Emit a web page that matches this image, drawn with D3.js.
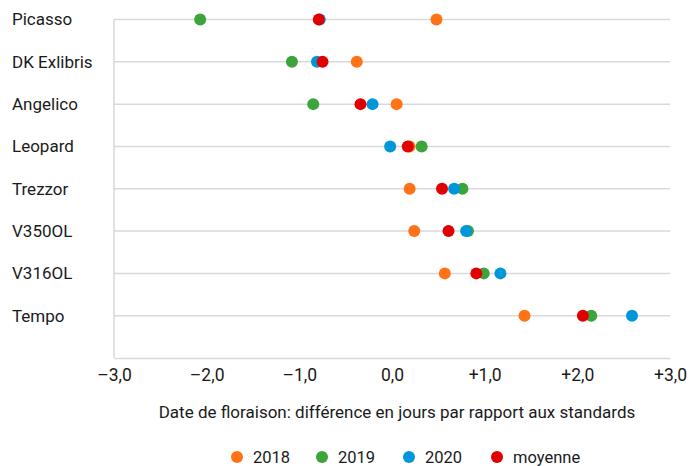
<!DOCTYPE html>
<html><head><meta charset="utf-8">
<script src="https://cdn.jsdelivr.net/npm/d3@7"></script>
<style>
body{margin:0;background:#fff}
text{font-family:Roboto,"Open Sans",sans-serif;fill:#1a1a1a}
</style>
</head><body>
<svg id="chart" width="696" height="466"></svg>
<script>
// valeurs (jours)
var varieties = ["Picasso","DK Exlibris","Angelico","Leopard","Trezzor","V350OL","V316OL","Tempo"];
var y2018   = [0.48,-0.38, 0.05, 0.19,0.19,0.24,0.57,1.43];
var y2019   = [-2.07,-1.08,-0.85,0.32,0.76,0.82,0.99,2.15];
var y2020   = [-0.78,-0.81,-0.21,-0.02,0.67,0.80,1.17,2.59];
var moyenne = [-0.79,-0.75,-0.34,0.17,0.54,0.61,0.91,2.06];
var seriesNames = ["2018","2019","2020","moyenne"];
var seriesColors = ["#ff7215","#3ba43b","#0097da","#e10000"];
var xTicks = [-3,-2,-1,0,1,2,3];

var svg = d3.select("#chart");
var x = d3.scaleLinear().domain([-3,3]).range([114,670]);
var y = d3.scaleLinear().domain([0,varieties.length]).range([19.5,358]);

function fmt(d){
    var s = Math.abs(d).toFixed(1).replace(".",",");
    if(d > 0) return "+" + s;
    if(d < 0) return "\u2013" + s;
    return s;
}

// lignes de grille
svg.append("g").selectAll("line").data(varieties).enter().append("line")
    .attr("x1",x(-3)).attr("x2",x(3))
    .attr("y1",function(d,i){return y(i);}).attr("y2",function(d,i){return y(i);})
    .attr("stroke","#d9d9d9").attr("stroke-width",1.5);

svg.append("line")
    .attr("x1",x(-3)).attr("x2",x(-3))
    .attr("y1",y(0)).attr("y2",y(varieties.length))
    .attr("stroke","#d9d9d9").attr("stroke-width",1.5);

var xAxis = svg.append("g")
    .attr("transform","translate(0,"+y(varieties.length)+")")
    .call(d3.axisBottom(x).tickValues(xTicks).tickSize(0).tickPadding(11).tickFormat(fmt));
xAxis.select(".domain").attr("stroke","#d9d9d9").attr("stroke-width",1.5);
xAxis.selectAll("text").style("font-size","17.5px").attr("fill","#1a1a1a");

// noms des variétés
svg.append("g").selectAll("text").data(varieties).enter().append("text")
    .attr("x",12).attr("y",function(d,i){return y(i);}).attr("dy","0.35em")
    .style("font-size","17px").text(function(d){return d;});

svg.append("text")
    .attr("x",397).attr("y",418).attr("text-anchor","middle")
    .style("font-size","17px")
    .text("Date de floraison: différence en jours par rapport aux standards");

// points
var series = [y2018,y2019,y2020,moyenne];
series.forEach(function(vals,k){
    svg.append("g").selectAll("circle").data(vals).enter().append("circle")
        .attr("cx",function(d){return x(d);})
        .attr("cy",function(d,i){return y(i);})
        .attr("r",6)
        .attr("fill",seriesColors[k]);
});

// légende
var legendX = [237,322,409,497];
var lg = svg.append("g").selectAll("g").data(seriesNames).enter().append("g")
    .attr("transform",function(d,i){return "translate("+legendX[i]+",457)";});
lg.append("circle").attr("r",6).attr("fill",function(d,i){return seriesColors[i];});
lg.append("text").attr("x",16).attr("dy","0.35em").style("font-size","16.5px").text(function(d){return d;});
</script>
</body></html>
